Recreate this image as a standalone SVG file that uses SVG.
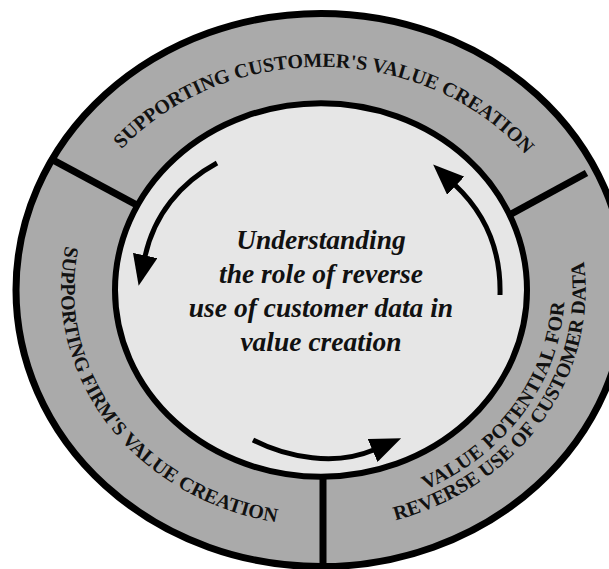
<svg xmlns="http://www.w3.org/2000/svg" width="609" height="569" viewBox="0 0 609 569">
<defs>
<style>
.ring{fill:#aaaaaa;stroke:#000;stroke-width:7}
.core{fill:#e6e6e6;stroke:#000;stroke-width:6}
.divider{stroke:#000;stroke-width:7;fill:none}
.lbl{font-family:"Liberation Serif","Times New Roman",serif;font-weight:bold;font-size:20px;fill:#111}
.title{font-family:"Liberation Serif","Times New Roman",serif;font-weight:bold;font-style:italic;font-size:27.5px;fill:#111;text-anchor:middle}
.arrow{fill:none;stroke:#000;stroke-width:5}
</style>
<marker id="head" markerUnits="userSpaceOnUse" markerWidth="31" markerHeight="25" viewBox="0 0 31 25" refX="1" refY="12.5" orient="auto"><path d="M0,0 L31,12.5 L0,25 Z" fill="#000"/></marker>
<path id="p-top" d="M64 290 A257 223.1 0 0 1 578 290"/>
<path id="p-left" d="M173.5 94.7 A261 236.7 0 0 0 460.8 489.8"/>
<path id="p-right1" d="M210.7 486.4 A243 220.4 0 0 0 467.3 113.9"/>
<path id="p-right2" d="M200.7 504.1 A265 240.4 0 0 0 480.5 98"/>
</defs>
<rect width="609" height="569" fill="#fff"/>
<g id="outer-ring">
<ellipse class="ring" cx="321" cy="290" rx="305" ry="276.6"/>
</g>
<g id="dividers">
<line class="divider" x1="49.5" y1="158.1" x2="136.5" y2="204.9"/>
<line class="divider" x1="586.5" y1="173" x2="509.5" y2="215"/>
<line class="divider" x1="323" y1="474" x2="323" y2="569"/>
</g>
<g id="core">
<ellipse class="core" cx="321" cy="290" rx="206" ry="186.8"/>
<text class="title" x="321" y="249">Understanding</text>
<text class="title" x="321" y="283">the role of reverse</text>
<text class="title" x="321" y="317">use of customer data in</text>
<text class="title" x="321" y="351">value creation</text>
</g>
<g id="segment-customer">
<text class="lbl"><textPath href="#p-top" startOffset="50.5%" text-anchor="middle">SUPPORTING CUSTOMER'S VALUE CREATION</textPath></text>
</g>
<g id="segment-firm">
<text class="lbl" font-size="19.6"><textPath href="#p-left" startOffset="50%" text-anchor="middle">SUPPORTING FIRM'S VALUE CREATION</textPath></text>
</g>
<g id="segment-value-potential">
<text class="lbl" letter-spacing="0.5"><textPath href="#p-right1" startOffset="50%" text-anchor="middle">VALUE POTENTIAL FOR</textPath></text>
<text class="lbl" font-size="19.3"><textPath href="#p-right2" startOffset="50%" text-anchor="middle">REVERSE USE OF CUSTOMER DATA</textPath></text>
</g>
<g id="connectors">
<path class="arrow" d="M217,163 C180,183 154,215 145,256.5" marker-end="url(#head)"/>
<path class="arrow" d="M500,295 C501,255 488,216 455,185" marker-end="url(#head)"/>
<path class="arrow" d="M253,440 C288,458 336,466 373.5,450" marker-end="url(#head)"/>
</g>
</svg>
